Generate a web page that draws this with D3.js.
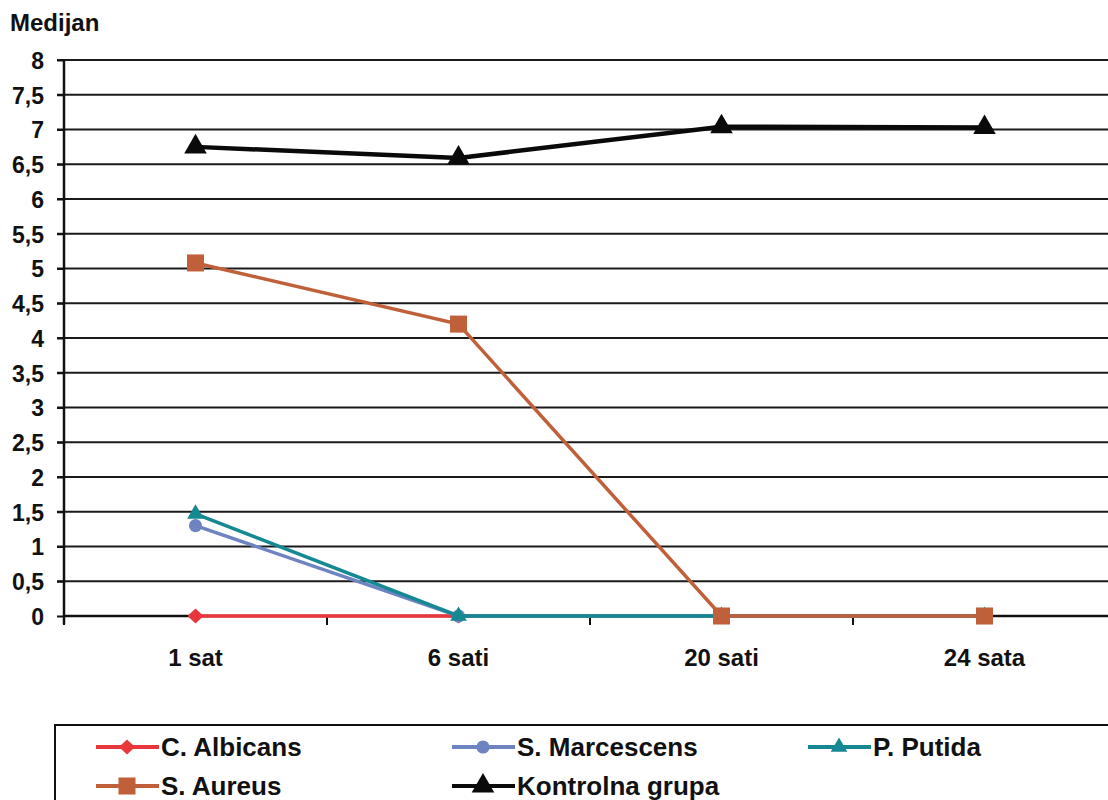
<!DOCTYPE html>
<html><head><meta charset="utf-8">
<script src="https://cdn.jsdelivr.net/npm/d3@7"></script>
<style>
body{margin:0;background:#fff;}
svg text{font-family:"Liberation Sans",Arial,sans-serif;font-weight:bold;fill:#111;}
</style></head>
<body>
<svg id="chart" width="1108" height="800"></svg>
<script>
const categories = ["1 sat", "6 sati", "20 sati", "24 sata"];
const yTicks = [0,0.5,1,1.5,2,2.5,3,3.5,4,4.5,5,5.5,6,6.5,7,7.5,8];
const cAlbicans = [0, 0, 0, 0];
const sMarcescens = [1.3, 0, 0, 0];
const pPutida = [1.47, 0, 0, 0];
const sAureus = [5.08, 4.2, 0, 0];
const kontrolna = [6.75, 6.59, 7.04, 7.03];
const seriesNames = ["C. Albicans", "S. Marcescens", "P. Putida", "S. Aureus", "Kontrolna grupa"];
const seriesColors = ["#e8373c", "#6e84c0", "#148893", "#c0603a", "#0a0a0a"];
const seriesMarkers = ["diamond", "circle", "triangle", "square", "triangle"];

const series = [cAlbicans, sMarcescens, pPutida, sAureus, kontrolna].map((v,i)=>({
  name: seriesNames[i], values: v, color: seriesColors[i], marker: seriesMarkers[i],
  width: i===4 ? 4.5 : 3.5, big: i===4
}));

const svg = d3.select("#chart");
const x0 = 64, x1 = 1116, yTop = 60, yBot = 616;
const xBand = d3.scaleBand().domain(categories).range([x0, x1]);
const y = d3.scaleLinear().domain([0, 8]).range([yBot, yTop]);
const fmt = d => String(d).replace(".", ",");

// gridlines
svg.append("g").selectAll("line").data(yTicks.filter(d=>d>0)).join("line")
  .attr("x1", 57).attr("x2", 1108)
  .attr("y1", d=>y(d)).attr("y2", d=>y(d))
  .attr("stroke", "#1a1a1a").attr("stroke-width", 2);

// y axis
const yAxis = svg.append("g").attr("transform", `translate(${x0},0)`)
  .call(d3.axisLeft(y).tickValues(yTicks).tickFormat(fmt).tickSize(7).tickPadding(13));
yAxis.select(".domain").attr("stroke","#111").attr("stroke-width",2.5)
  .attr("d", `M0,${yTop}V${yBot+8}`);
yAxis.selectAll(".tick line").attr("stroke","#111").attr("stroke-width",2);
yAxis.selectAll(".tick text").style("font-size","23px")
  .attr("font-family",null).attr("dy","0.36em");

// x axis
const xAxisG = svg.append("g").attr("transform", `translate(0,${yBot})`);
xAxisG.append("line").attr("x1", x0).attr("x2", 1108).attr("y1",0).attr("y2",0)
  .attr("stroke","#111").attr("stroke-width",2.5);
xAxisG.selectAll("line.t").data(categories).join("line").attr("class","t")
  .attr("x1", d=>xBand(d)).attr("x2", d=>xBand(d)).attr("y1",0).attr("y2",9)
  .attr("stroke","#111").attr("stroke-width",2);
xAxisG.selectAll("text").data(categories).join("text")
  .attr("x", d=>xBand(d)+xBand.bandwidth()/2).attr("y", 50)
  .attr("text-anchor","middle").style("font-size","24px").text(d=>d);

svg.append("text").attr("x", 10).attr("y", 31).style("font-size","24px").text("Medijan");

const xc = d => xBand(d) + xBand.bandwidth()/2;

function drawMarker(g, type, color, big) {
  let d;
  if (type==="diamond") d = "M0,-7.5L8,0L0,7.5L-8,0Z";
  else if (type==="circle") d = d3.symbol(d3.symbolCircle, 135)();
  else if (type==="square") d = d3.symbol(d3.symbolSquare, 290)();
  else d = d3.symbol(d3.symbolTriangle, big ? 220 : 120)();
  g.append("path").attr("d", d).attr("fill", color);
}

const line = d3.line().x((d,i)=>xc(categories[i])).y(d=>y(d));
series.forEach(s=>{
  const g = svg.append("g");
  g.append("path").datum(s.values).attr("d", line).attr("fill","none")
    .attr("stroke", s.color).attr("stroke-width", s.width);
  s.values.forEach((v,i)=>{
    const mg = g.append("g").attr("transform", `translate(${xc(categories[i])},${y(v)})`);
    drawMarker(mg, s.marker, s.color, s.big);
  });
});

// legend
svg.append("rect").attr("x", 55).attr("y", 725).attr("width", 1100).attr("height", 120)
  .attr("fill","none").attr("stroke","#111").attr("stroke-width",2);
const legendPos = [[96,747],[452,747],[808,747],[96,786],[452,786]];
series.forEach((s,i)=>{
  const [lx, ly] = legendPos[i];
  const g = svg.append("g").attr("transform", `translate(${lx},${ly})`);
  g.append("line").attr("x1",0).attr("x2",63).attr("y1",0).attr("y2",0)
    .attr("stroke", s.color).attr("stroke-width", 4);
  const mg = g.append("g").attr("transform","translate(31,0)");
  drawMarker(mg, s.marker, s.color, s.big);
  g.append("text").attr("x", 65).attr("y", 0).attr("dy","0.36em")
    .style("font-size","26px").text(s.name);
});
</script>
</body></html>
